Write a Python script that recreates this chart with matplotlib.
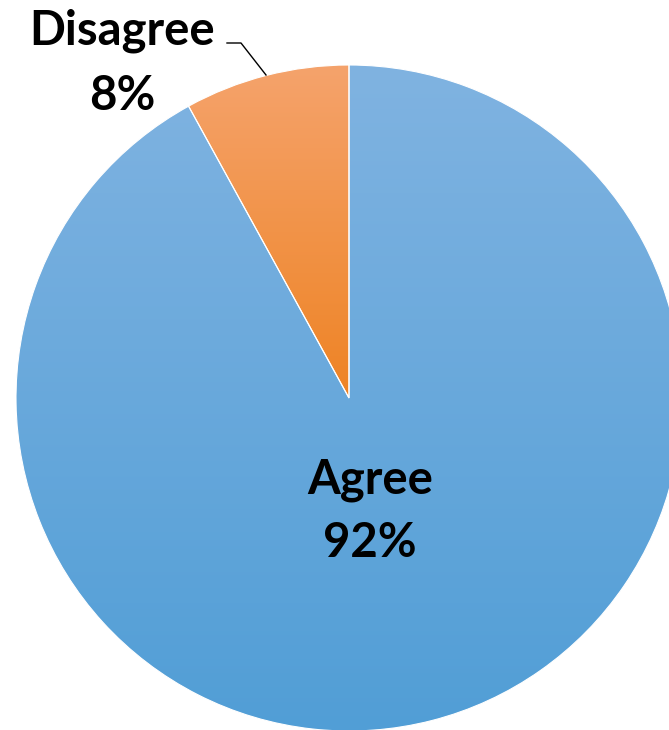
import matplotlib
matplotlib.use("Agg")
import matplotlib.pyplot as plt
import numpy as np
from matplotlib.colors import LinearSegmentedColormap

labels = ["Disagree", "Agree"]
values = [8, 92]
# gradient colours per slice: (top, bottom)
grad_colors = [("#f5a36c", "#ee8324"), ("#80b3e1", "#519ed6")]

W, H = 669, 730
cx, cy, R = 349, 332, 333

fig = plt.figure(figsize=(W / 100, H / 100), dpi=100)
ax = fig.add_axes([0, 0, 1, 1])

wedges, _ = ax.pie(values, startangle=90, counterclock=True,
                   center=(cx, cy), radius=R,
                   wedgeprops=dict(linewidth=0.8, edgecolor="white"))
ax.set_xlim(0, W)
ax.set_ylim(0, H)
ax.set_aspect("equal")
ax.axis("off")

grad = np.linspace(0, 1, 256).reshape(-1, 1)
for w, (top, bot) in zip(wedges, grad_colors):
    w.set_facecolor("none")
    ext = w.get_path().get_extents()
    x0, y0, x1, y1 = ext.x0, ext.y0, ext.x1, ext.y1
    cmap = LinearSegmentedColormap.from_list("g", [bot, top])
    im = ax.imshow(grad, cmap=cmap, origin="lower", aspect="auto",
                   extent=(x0, x1, y0, y1), zorder=1)
    im.set_clip_path(w)
    w.set_zorder(2)

ax.set_xlim(0, W)
ax.set_ylim(0, H)

font = dict(family=["Lato", "DejaVu Sans"], fontweight="bold", color="black")
ax.text(122, H - 31, labels[0], fontsize=34, ha="center", va="center", **font)
ax.text(122, H - 96, f"{values[0]}%", fontsize=34, ha="center", va="center", **font)
ax.text(370, H - 480, labels[1], fontsize=34, ha="center", va="center", **font)
ax.text(370, H - 543, f"{values[1]}%", fontsize=34, ha="center", va="center", **font)

# leader line for the small slice
ax.plot([227, 241, 266], [H - 43, H - 43, H - 75], color="black", lw=1, zorder=3)

fig.savefig("out.png", dpi=100)
